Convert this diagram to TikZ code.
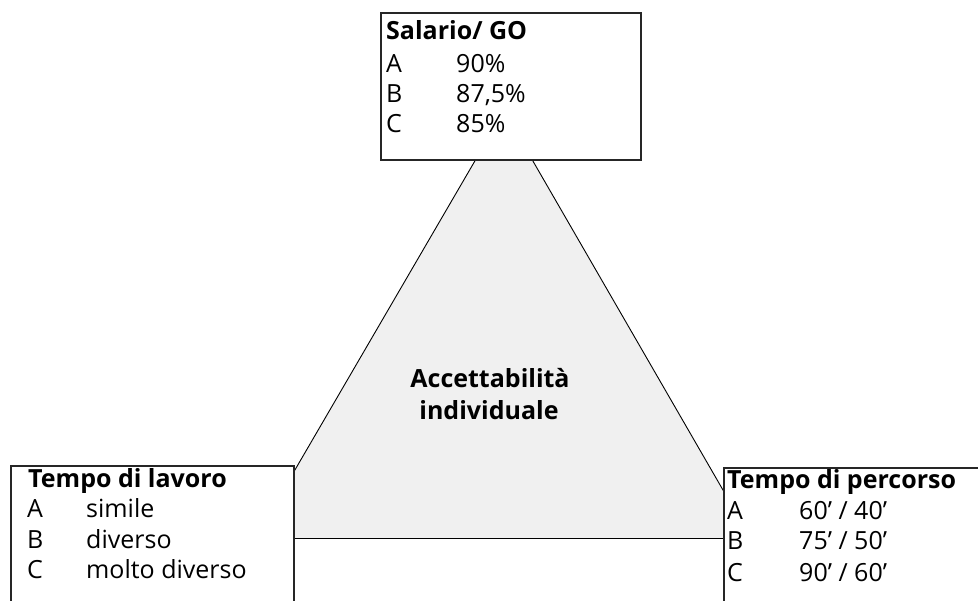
\documentclass[tikz,border=0pt]{standalone}
\usepackage{fontspec}
\setmainfont{Open Sans}
\begin{document}
\begin{tikzpicture}[x=1pt,y=-1pt,
  frame/.style={draw=black!85, line width=1.6pt, fill=white, anchor=north west, inner sep=0},
  side/.style={draw=black, line width=0.9pt},
  head/.style={anchor=base west, inner sep=0, font=\fontsize{25}{30}\selectfont\bfseries},
  item/.style={anchor=base west, inner sep=0, font=\fontsize{25}{30}\selectfont},
  core/.style={anchor=base, inner sep=0, font=\fontsize{25}{30}\selectfont\bfseries}]
\useasboundingbox (0,0) rectangle (978,601);

% central triangle, its corners hidden behind the three boxes
\coordinate (apex) at (504,111);
\coordinate (bl) at (255,538.5);
\coordinate (br) at (751,538.5);
\fill[black!6] (apex) -- (bl) -- (br) -- cycle;
\draw[side] (apex) -- (bl) -- (br) -- cycle;
\node[core] (c1) at (490,388) {Accettabilità};
\node[core] (c2) at (489,420) {individuale};

% top box
\node[frame, minimum width=260pt, minimum height=147pt] (sal) at (380,12) {};
\node[head] (salh) at (386,40) {Salario/ GO};
\node[item] (salA) at (386,73) {A};
\node[item] (salAv) at (456,73) {90\%};
\node[item] (salB) at (386,103) {B};
\node[item] (salBv) at (456,103) {87,5\%};
\node[item] (salC) at (386,133) {C};
\node[item] (salCv) at (456,133) {85\%};

% bottom left box
\node[frame, minimum width=283pt, minimum height=150pt] (lav) at (10,465) {};
\node[head] (lavh) at (28,488) {Tempo di lavoro};
\node[item] (lavA) at (27,518) {A};
\node[item] (lavAv) at (86,518) {simile};
\node[item] (lavB) at (27,548) {B};
\node[item] (lavBv) at (86,548) {diverso};
\node[item] (lavC) at (27,578) {C};
\node[item] (lavCv) at (86,578) {molto diverso};

% bottom right box
\node[frame, minimum width=280pt, minimum height=150pt] (per) at (723,467) {};
\node[head] (perh) at (727,489) {Tempo di percorso};
\node[item] (perA) at (727,520) {A};
\node[item] (perAv) at (799,520) {60’ / 40’};
\node[item] (perB) at (727,550) {B};
\node[item] (perBv) at (799,550) {75’ / 50’};
\node[item] (perC) at (727,581) {C};
\node[item] (perCv) at (799,581) {90’ / 60’};
\end{tikzpicture}
\end{document}
